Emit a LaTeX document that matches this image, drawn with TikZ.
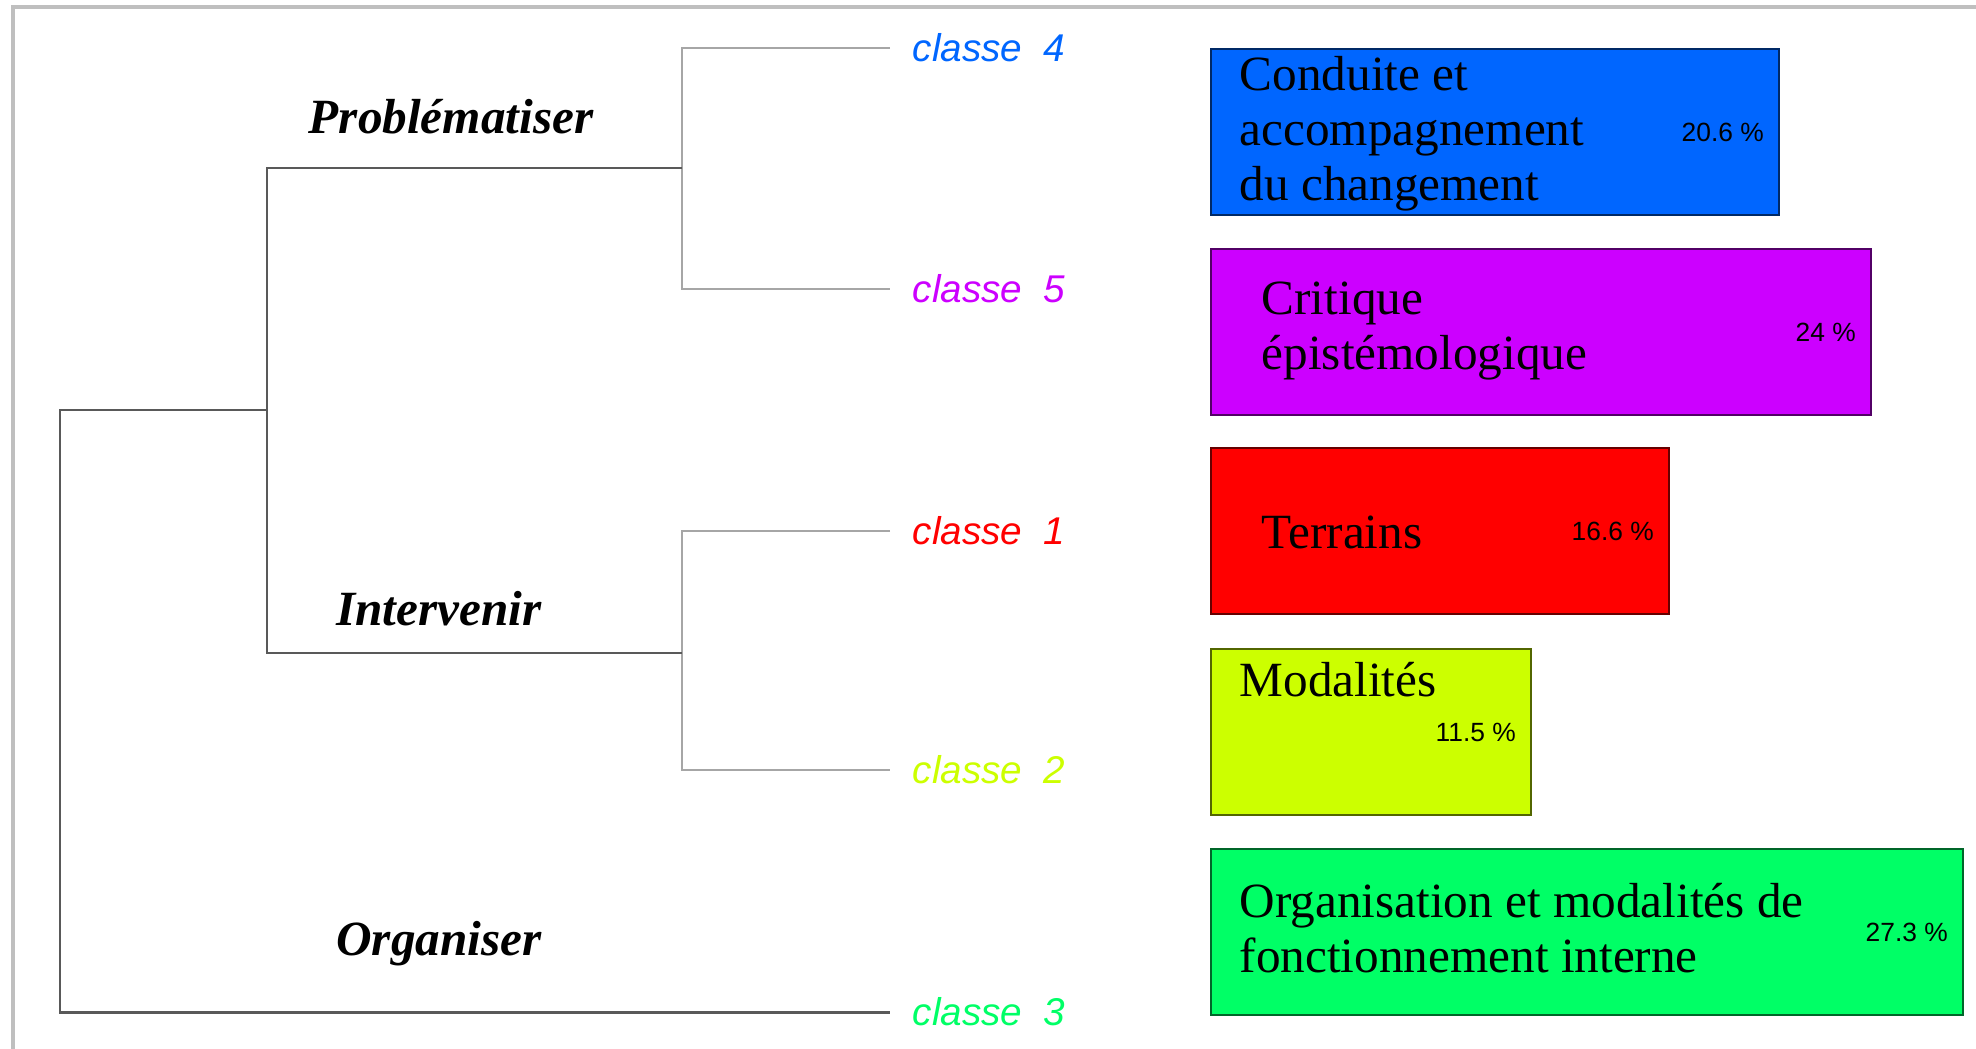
\documentclass[tikz,border=0pt]{standalone}
\usepackage{fontspec}
\setmainfont{Liberation Serif}
\setsansfont{Liberation Sans}

\definecolor{cone}{RGB}{255,0,0}
\definecolor{ctwo}{RGB}{204,255,0}
\definecolor{cthree}{RGB}{0,255,102}
\definecolor{cfour}{RGB}{0,102,255}
\definecolor{cfive}{RGB}{204,0,255}

\newcommand{\leafx}{890}
\newcommand{\boxx}{1210}
\newcommand{\boxh}{166}

\tikzset{
  trunk/.style={draw=black!65, line width=0.85pt},
  twig/.style={draw=black!35, line width=0.6pt},
  classlabel/.style={anchor=west, inner xsep=6.3pt, inner ysep=0pt,
    font=\sffamily\itshape\fontsize{11}{13}\selectfont},
  grouplabel/.style={font=\bfseries\itshape\fontsize{14}{16}\selectfont},
  classbox/.style={anchor=north west, draw=#1!40!black, fill=#1,
    line width=0.7pt, minimum height=\boxh*0.01cm, inner sep=0pt},
  boxtext/.style={anchor=west, inner sep=0pt, align=left,
    font=\fontsize{14}{15.6}\selectfont},
  share/.style={anchor=east, inner sep=0pt,
    font=\sffamily\fontsize{7.5}{9}\selectfont}
}

\begin{document}
\begin{tikzpicture}[x=0.01cm,y=-0.01cm]
     \useasboundingbox (0,0) rectangle (1976,1049);
     \draw [black!25, line width=1pt] (13,1049) |- (1976,7);

     % leaves of the tree
     \foreach \n/\y/\colour in {4/48/cfour,5/289/cfive,1/531/cone,2/770/ctwo,3/1012/cthree}
       \node [classlabel, text=\colour] (c\n) at (\leafx,\y) {classe\ \ \n};

     \coordinate (j45) at (682,168);
     \coordinate (j12) at (682,653);
     \coordinate (jpi) at (267,410);
     \coordinate (jroot) at (60,410);

     \draw [twig] (c4.west) -| (j45) |- (c5.west);
     \draw [twig] (c1.west) -| (j12) |- (c2.west);
     \draw [trunk] (j45) -| (jpi) |- (j12);
     \draw [trunk] (jpi) -- (jroot) |- (c3.west);

     \node [grouplabel] (prob) at (451,117) {Problématiser};
     \node [grouplabel] (inter) at (439,609) {Intervenir};
     \node [grouplabel] (orga) at (439,944) {Organiser};

     % one box per class
     \foreach \n/\y/\w/\colour/\pc in {4/48/568/cfour/20.6,5/248/660/cfive/24,
         1/447/458/cone/16.6,2/648/320/ctwo/11.5,3/848/752/cthree/27.3}
       {
       \node [classbox=\colour, minimum width=\w*0.01cm] (b\n) at (\boxx,\y) {};
       \node [share] (p\n) at ([xshift=-16*0.01cm]b\n.east) {\pc\ \%};
       }

     \node [boxtext] (t4) at (1239,134) {Conduite et\\accompagnement\\du changement};
     \node [boxtext] (t5) at (1261,331) {Critique\\épistémologique};
     \node [boxtext] (t1) at (1261,532) {Terrains};
     \node [boxtext] (t2) at (1239,680) {Modalités};
     \node [boxtext] (t3) at (1239,928) {Organisation et modalités de\\fonctionnement interne};
   \end{tikzpicture}
\end{document}
